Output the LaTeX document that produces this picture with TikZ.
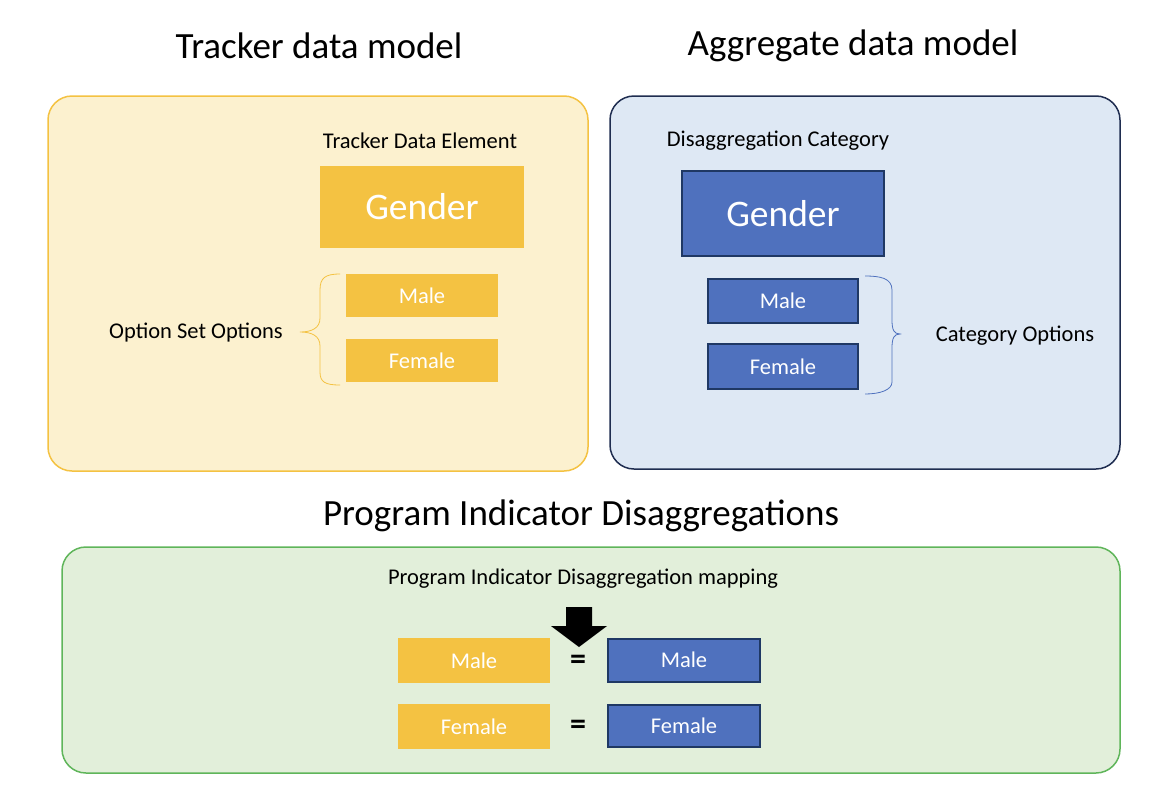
\documentclass[tikz,border=0pt]{standalone}
\usepackage{fontspec}
\setmainfont{Carlito}
\definecolor{ylwfill}{HTML}{FCF1CF}
\definecolor{ylw}{HTML}{F4C242}
\definecolor{bluefill}{HTML}{DEE8F4}
\definecolor{blueline}{HTML}{1F2D50}
\definecolor{bluebox}{HTML}{4F71BE}
\definecolor{boxline}{HTML}{1F3864}
\definecolor{greenfill}{HTML}{E2EFDA}
\definecolor{greenline}{HTML}{5FB55A}
\tikzset{
  title/.style={font=\fontsize{37}{40}\selectfont, text=black},
  label/.style={font=\fontsize{22.5}{26}\selectfont, text=black},
  panel/.style={draw, line width=1.5pt, rounded corners=24pt},
  ybox/.style={fill=ylw, text=white, inner sep=0pt, font=\fontsize{22.5}{26}\selectfont},
  bbox/.style={fill=bluebox, draw=boxline, line width=2pt, inner sep=0pt, text=white, font=\fontsize{22.5}{26}\selectfont},
  big/.style={font=\fontsize{37.5}{42}\selectfont},
  eqs/.style={font=\bfseries\fontsize{32}{34}\selectfont},
}
\begin{document}
\begin{tikzpicture}[x=1pt,y=-1pt]
\useasboundingbox (0,0) rectangle (1158,806);
% panels
\draw[panel, draw=ylw, fill=ylwfill] (48,96) rectangle (588,471);
\draw[panel, draw=blueline, fill=bluefill] (610,96) rectangle (1120,469);
\draw[panel, draw=greenline, fill=greenfill] (62,547) rectangle (1120,773);
% titles
\node[title] (t1) at (319,46) {Tracker data model};
\node[title] (t2) at (853,46) {Aggregate data model};
\node[title] (t3) at (581,516) {Program Indicator Disaggregations};
% tracker
\node[label] (tde) at (420,141) {Tracker Data Element};
\node[ybox, big, minimum width=204pt, minimum height=82pt] (yg) at (422,207) {Gender};
\node[ybox, minimum width=152pt, minimum height=43pt] (ym) at (422,295.5) {Male};
\node[ybox, minimum width=152pt, minimum height=43pt] (yf) at (422,360.5) {Female};
\draw[ylw, line width=0.8pt] (340,274) .. controls (325,274) and (320,278) .. (320,290) -- (320,318) .. controls (320,328) and (312,332) .. (300,332) .. controls (312,332) and (320,336) .. (320,346) -- (320,372) .. controls (320,382) and (325,385) .. (340,385);
\node[label] (oso) at (196,333) {Option Set Options};
% aggregate
\node[label] (dc) at (778,141) {Disaggregation Category};
\node[bbox, big, minimum width=202pt, minimum height=85pt] (bg) at (783,213.5) {Gender};
\node[bbox, minimum width=150pt, minimum height=44pt] (bm) at (783,301) {Male};
\node[bbox, minimum width=150pt, minimum height=45pt] (bf) at (783,366.5) {Female};
\draw[bluebox, line width=0.8pt] (865,276) .. controls (880,276) and (892,278) .. (892,290) -- (892,320) .. controls (892,330) and (894,334) .. (900,334) .. controls (894,334) and (892,338) .. (892,348) -- (892,382) .. controls (892,390) and (880,394) .. (865,394);
\node[label] (co) at (1015,336) {Category Options};
% mapping
\node[label] (pidm) at (583,579) {Program Indicator Disaggregation mapping};
\node[ybox, minimum width=152pt, minimum height=45pt] (mym) at (474,660.5) {Male};
\node[ybox, minimum width=152pt, minimum height=45pt] (myf) at (474,726.5) {Female};
\node[bbox, minimum width=152pt, minimum height=43pt] (mbm) at (684,660) {Male};
\node[bbox, minimum width=152pt, minimum height=42pt] (mbf) at (684,725.5) {Female};
\node[eqs] (eq1) at (578,662) {=};
\node[eqs] (eq2) at (578,727) {=};
\fill[black] (566,607) -- (592,607) -- (592,626) -- (607,626) -- (579,647) -- (551,626) -- (566,626) -- cycle;
\end{tikzpicture}
\end{document}
